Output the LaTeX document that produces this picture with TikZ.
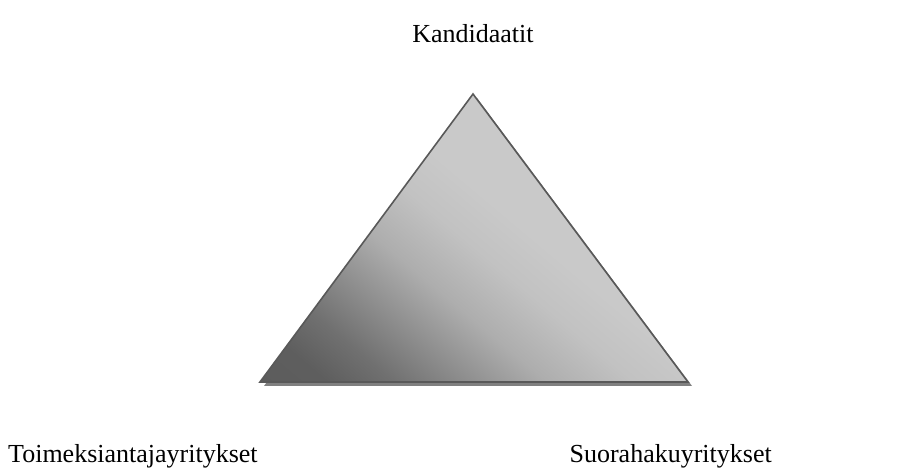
\documentclass[tikz,border=0pt]{standalone}
\usepackage{fontspec}
\setmainfont{Liberation Serif}
\pgfdeclarehorizontalshading{trishade}{100bp}{color(0bp)=(black!66); color(21bp)=(black!63); color(27bp)=(black!56); color(34bp)=(black!44); color(41bp)=(black!32); color(49bp)=(black!24); color(56bp)=(black!21); color(100bp)=(black!22)}
\begin{document}
\begin{tikzpicture}[x=1pt,y=1pt,
  lbl/.style={font=\fontsize{26}{30}\selectfont, inner sep=0pt}]
\useasboundingbox[fill=white] (0,0) rectangle (924,474);
\coordinate (A) at (473,380);
\coordinate (B) at (260,92);
\coordinate (C) at (688,92);
% shadow
\fill[black!50] ([shift={(4,-4)}]A) -- ([shift={(4,-4)}]B) -- ([shift={(4,-4)}]C) -- cycle;
% triangle
\draw[draw=black!65, line width=1.6pt, line join=miter, shading=trishade, shading angle=50]
  (A) -- (B) -- (C) -- cycle;
\node[lbl] (k) at (473,440) {Kandidaatit};
\node[lbl, anchor=west] (t) at (8,18) {Toimeksiantajayritykset};
\node[lbl, anchor=east] (s) at (772,18) {Suorahakuyritykset};
\end{tikzpicture}
\end{document}
